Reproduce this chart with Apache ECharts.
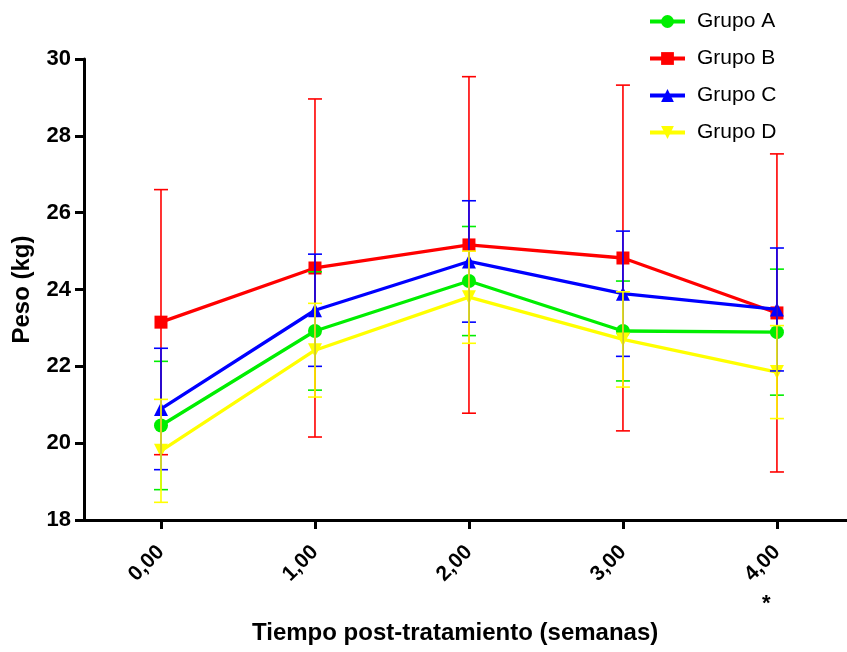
<!DOCTYPE html>
<html><head><meta charset="utf-8">
<script src="https://cdn.jsdelivr.net/npm/echarts@6/dist/echarts.min.js"></script>
<style>html,body{margin:0;padding:0;background:#fff}#c{width:847px;height:652px}</style>
</head><body><div id="c"></div>
<script>
const weeks = [0, 1, 2, 3, 4];
const tickLabels = ['0,00', '1,00', '2,00', '3,00', '4,00'];
const groupNames = ['Grupo A', 'Grupo B', 'Grupo C', 'Grupo D'];
const meanA = [20.46, 22.92, 24.22, 22.92, 22.89];
const sdA = [1.67, 1.54, 1.42, 1.30, 1.64];
const meanB = [23.15, 24.56, 25.16, 24.82, 23.39];
const sdB = [3.45, 4.40, 4.38, 4.50, 4.14];
const meanC = [20.89, 23.46, 24.73, 23.89, 23.48];
const sdC = [1.58, 1.46, 1.58, 1.63, 1.60];
const meanD = [19.80, 22.42, 23.80, 22.70, 21.85];
const sdD = [1.34, 1.22, 1.20, 1.24, 1.21];
const yTicks = [18, 20, 22, 24, 26, 28, 30];

const FONT = 'Liberation Sans, Arial, sans-serif';
const colors = ['#00ee00', '#ff0000', '#0000ff', '#ffff00'];
const symbols = ['circle', 'rect', 'triangle', 'path://M0,0 L10,0 L5,9 Z'];
const means = [meanA, meanB, meanC, meanD];
const sds = [sdA, sdB, sdC, sdD];

const chart = echarts.init(document.getElementById('c'), null, {renderer: 'canvas'});
const series = [];
means.forEach((m, i) => {
  series.push({
    name: groupNames[i], type: 'line', data: weeks.map((w, k) => [w, m[k]]),
    symbol: symbols[i], symbolSize: i === 1 ? 13 : 14, showSymbol: true,
    lineStyle: {color: colors[i], width: 3.3}, itemStyle: {color: colors[i]},
    z: 2 + i, animation: false
  });
});
means.forEach((m, i) => {
  series.push({
    name: groupNames[i] + ' err', type: 'custom', z: 10 + i, animation: false,
    data: weeks.map((w, k) => [w, m[k] - sds[i][k], m[k] + sds[i][k]]),
    renderItem: (params, api) => {
      const lo = api.coord([api.value(0), api.value(1)]);
      const hi = api.coord([api.value(0), api.value(2)]);
      const hw = 7;
      const st = {stroke: colors[i], lineWidth: 1.6};
      return {type: 'group', children: [
        {type: 'line', shape: {x1: lo[0], y1: lo[1], x2: hi[0], y2: hi[1]}, style: st},
        {type: 'line', shape: {x1: lo[0] - hw, y1: lo[1], x2: lo[0] + hw, y2: lo[1]}, style: st},
        {type: 'line', shape: {x1: hi[0] - hw, y1: hi[1], x2: hi[0] + hw, y2: hi[1]}, style: st}
      ]};
    }
  });
});

chart.setOption({
  backgroundColor: '#fff',
  animation: false,
  textStyle: {fontFamily: FONT},
  grid: {left: 84, right: 0, top: 59, bottom: 132, containLabel: false},
  legend: {
    data: groupNames,
    orient: 'vertical', left: 643, top: 6, itemGap: 16,
    itemWidth: 35, itemHeight: 16,
    lineStyle: {width: 4},
    textStyle: {fontSize: 21, color: '#000', fontFamily: FONT, padding: [0, 0, 0, 7]}
  },
  xAxis: {
    type: 'value', min: -0.5, max: 4.455,
    splitLine: {show: false},
    axisLine: {show: true, onZero: false, lineStyle: {color: '#000', width: 3}},
    axisTick: {show: true, customValues: weeks, length: 9, lineStyle: {color: '#000', width: 3}},
    axisLabel: {
      customValues: weeks, rotate: 45, margin: 29,
      formatter: v => tickLabels[weeks.indexOf(v)] || '',
      fontSize: 21, fontWeight: 'bold', color: '#000', fontFamily: FONT
    }
  },
  yAxis: {
    type: 'value', min: 18, max: 30, interval: 2,
    name: 'Peso (kg)', nameLocation: 'middle', nameGap: 50, nameRotate: 90,
    nameTextStyle: {fontSize: 24, fontWeight: 'bold', color: '#000', fontFamily: FONT},
    splitLine: {show: false},
    axisLine: {show: true, onZero: false, lineStyle: {color: '#000', width: 3}},
    axisTick: {show: true, length: 9, lineStyle: {color: '#000', width: 3}},
    axisLabel: {
      margin: 13, fontSize: 22, fontWeight: 'bold', color: '#000', fontFamily: FONT,
      formatter: v => yTicks.includes(v) ? String(v) : ''
    }
  },
  series: series
});

const p4 = chart.convertToPixel({xAxisIndex: 0}, 4);
chart.setOption({
  graphic: [
    {type: 'text', left: p4 - 15, top: 593, style: {text: '*', fontSize: 22, fontWeight: 'bold', fill: '#000', fontFamily: FONT}},
    {type: 'text', left: 252, top: 621, style: {text: 'Tiempo post-tratamiento (semanas)', fontSize: 24, fontWeight: 'bold', fill: '#000', fontFamily: FONT}}
  ]
});
</script></body></html>
